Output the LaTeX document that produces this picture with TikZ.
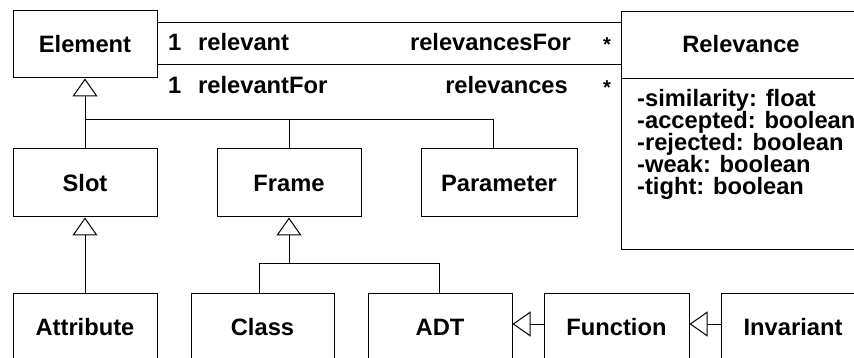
\documentclass[tikz,border=0pt]{standalone}
\usepackage{fontspec}
\setmainfont{Liberation Sans}
\usetikzlibrary{arrows.meta}
\tikzset{
  every node/.style={font=\bfseries\fontsize{23.7}{28}\selectfont, inner sep=0pt},
  classbox/.style={draw, line width=1pt, minimum height=68pt},
  link/.style={line width=1pt},
  gen/.style={line width=1pt, -{Triangle[open, length=18pt, width=25pt, line width=1pt]}},
  lbl/.style={anchor=base west},
  lblr/.style={anchor=base east},
  mult/.style={anchor=center, font=\bfseries\fontsize{20}{24}\selectfont},
  attr/.style={anchor=base west}
}
\begin{document}
\begin{tikzpicture}[x=1pt, y=-1pt]
\useasboundingbox (0,0) rectangle (854,358);
\clip (0,0) rectangle (854,358);

% classes
\node[classbox, minimum width=144pt, minimum height=67pt] (element) at (85,44.5) {Element};
\node[classbox, minimum width=144pt] (slot) at (85,183) {Slot};
\node[classbox, minimum width=144pt] (frame) at (289,183) {Frame};
\node[classbox, minimum width=156pt] (parameter) at (499,183) {Parameter};
\node[classbox, minimum width=144pt] (attribute) at (85,327) {Attribute};
\node[classbox, minimum width=143pt] (class) at (262.5,327) {Class};
\node[classbox, minimum width=144pt] (adt) at (440,327) {ADT};
\node[classbox, minimum width=145pt] (function) at (616.5,327) {Function};
\node[classbox, minimum width=144pt] (invariant) at (793,327) {Invariant};

% Relevance class with its attribute compartment
\node[draw, line width=1pt, minimum width=254pt, minimum height=237pt] (rel) at (748,130.5) {};
\node[anchor=base] (reltitle) at (741,53) {Relevance};
\draw[link] (rel.west |- 0,79) -- (rel.east |- 0,79);
\node[attr] (a1) at (637,107) {-similarity: float};
\node[attr] (a2) at (637,129) {-accepted: boolean};
\node[attr] (a3) at (637,151) {-rejected: boolean};
\node[attr] (a4) at (637,173) {-weak: boolean};
\node[attr] (a5) at (637,195) {-tight: boolean};

% associations Element -- Relevance
\draw[link] (element.east |- 0,23) -- (rel.west |- 0,23);
\draw[link] (element.east |- 0,65) -- (rel.west |- 0,65);
\node[lbl] (m1) at (168,51) {1};
\node[lbl] (r1) at (198,51) {relevant};
\node[lblr] (r2) at (571,51) {relevancesFor};
\node[mult] (m2) at (607,45) {*};
\node[lbl] (m3) at (168,94) {1};
\node[lbl] (r3) at (198,94) {relevantFor};
\node[lblr] (r4) at (568,94) {relevances};
\node[mult] (m4) at (607,88) {*};

% generalization: Slot, Frame, Parameter -> Element
\coordinate (j1) at (85,120);
\coordinate (pb) at (493,120);
\draw[gen] (j1) -- (element.south);
\draw[link] (slot.north) -- (j1) -- (pb) -- (pb |- parameter.north);
\draw[link] (frame.north) -- (frame.north |- j1);

% generalization: Attribute -> Slot
\draw[gen] (attribute.north) -- (slot.south);

% generalization: Class, ADT -> Frame
\coordinate (j2) at (289,263);
\coordinate (cb) at (259,263);
\coordinate (ab) at (439,263);
\draw[gen] (j2) -- (frame.south);
\draw[link] (cb |- class.north) -- (cb) -- (ab) -- (ab |- adt.north);

% generalization: Function -> ADT, Invariant -> Function
\draw[gen] ([yshift=3pt]function.west) -- ([yshift=3pt]adt.east);
\draw[gen] ([yshift=3pt]invariant.west) -- ([yshift=3pt]function.east);
\end{tikzpicture}
\end{document}
